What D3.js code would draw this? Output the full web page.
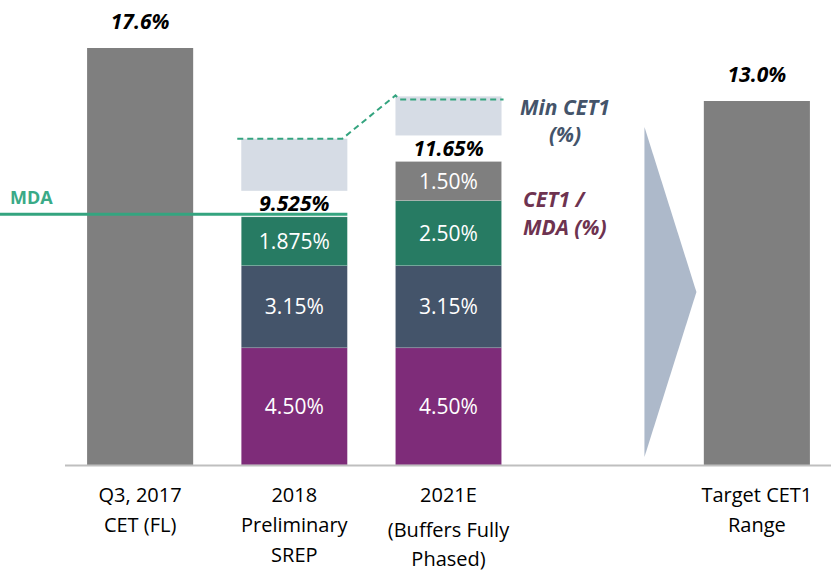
<!DOCTYPE html>
<html>
<head>
<meta charset="utf-8">
<script src="https://cdn.jsdelivr.net/npm/d3@7"></script>
<style>
  body { margin: 0; background: #fff; }
  text { font-family: "Open Sans", sans-serif; }
</style>
</head>
<body>
<div id="container"></div>
<script>
/**
 * DATA
 * */
const categories = ["Q3, 2017", "2018", "2021E", "arrow", "Target"];
const categoryLines = [
  ["Q3, 2017", "CET (FL)"],
  ["2018", "Preliminary", "SREP"],
  ["2021E", "(Buffers Fully", "Phased)"],
  [],
  ["Target CET1", "Range"]
];
// gray total bars
const totalCats = ["Q3, 2017", "Target"];
const totalValues = [17.6, 13.0];
const totalLabels = ["17.6%", "13.0%"];

// stacked requirement bars
const stackCats = ["2018", "2021E"];
const layerNames = ["Pillar 1", "Pillar 2R", "CCB", "O-SII"];
const layer2018 = [4.50, 3.15, 1.875, 0];
const layer2021 = [4.50, 3.15, 2.50, 1.50];
const layerLabels2018 = ["4.50%", "3.15%", "1.875%", ""];
const layerLabels2021 = ["4.50%", "3.15%", "2.50%", "1.50%"];
const stackTotalLabels = ["9.525%", "11.65%"];

// Min CET1 boxes (from / to)
const minFrom = [10.525, 12.65];
const minTo = [12.525, 14.15];

const mdaValue = 9.525;

/**
 * CONSTANTS
 * */
const width = 831,
  height = 572,
  baseline = 465;

const colors = {
  "Pillar 1": "#7e2c79",
  "Pillar 2R": "#44546a",
  "CCB": "#277b63",
  "O-SII": "#7f7f7f"
};

const svg = d3.select("#container")
  .append("svg")
  .attr("width", width)
  .attr("height", height);

const x = d3.scaleBand()
  .domain(categories)
  .range([10, 887])
  .paddingInner(0.312)
  .paddingOuter(0.5);

// stacks are drawn to scale
const y = d3.scaleLinear()
  .domain([0, 17.85])
  .range([baseline, 0]);

// total bars are not to scale in the original slide
const yTotal = d3.scaleLinear()
  .domain([13.0, 17.6])
  .range([101, 48]);

// arrow
const tx = x("Target");
const arrowTop = yTotal(13.0) + 26,
  arrowBot = baseline - 8;
svg.append("polygon")
  .attr("points", [
    [tx - 0.385 * x.step(), arrowTop],
    [tx - 0.048 * x.step(), (arrowTop + arrowBot) / 2],
    [tx - 0.385 * x.step(), arrowBot]
  ].map(p => p.join(",")).join(" "))
  .attr("fill", "#adb9ca");

// total bars
const totals = totalCats.map((c, i) => ({ cat: c, value: totalValues[i], label: totalLabels[i] }));
svg.selectAll("rect.total")
  .data(totals)
  .join("rect")
  .attr("class", "total")
  .attr("x", d => x(d.cat))
  .attr("width", x.bandwidth())
  .attr("y", d => yTotal(d.value))
  .attr("height", d => baseline - yTotal(d.value))
  .attr("fill", "#7f7f7f");

svg.selectAll("text.total-label")
  .data(totals)
  .join("text")
  .attr("class", "total-label")
  .attr("x", d => x(d.cat) + x.bandwidth() / 2)
  .attr("y", d => yTotal(d.value) - 19)
  .attr("text-anchor", "middle")
  .attr("font-size", 21)
  .attr("font-weight", "bold")
  .attr("font-style", "italic")
  .attr("fill", "#000")
  .text(d => d.label);

// stacked bars
const stackRows = stackCats.map((c, i) => {
  const vals = i === 0 ? layer2018 : layer2021;
  const row = { cat: c };
  layerNames.forEach((n, j) => row[n] = vals[j]);
  return row;
});
const series = d3.stack().keys(layerNames)(stackRows);

const layers = svg.selectAll("g.layer")
  .data(series)
  .join("g")
  .attr("class", "layer")
  .attr("fill", d => colors[d.key]);

layers.selectAll("rect")
  .data(d => d.filter(s => s[1] > s[0]))
  .join("rect")
  .attr("x", d => x(d.data.cat))
  .attr("width", x.bandwidth())
  .attr("y", d => y(d[1]))
  .attr("height", d => y(d[0]) - y(d[1]))
  .attr("stroke", "rgba(255,255,255,0.3)")
  .attr("stroke-width", 0.6);

series.forEach((s, j) => {
  s.forEach((d, i) => {
    const lab = (i === 0 ? layerLabels2018 : layerLabels2021)[j];
    if (!lab) return;
    svg.append("text")
      .attr("x", x(d.data.cat) + x.bandwidth() / 2)
      .attr("y", (y(d[0]) + y(d[1])) / 2)
      .attr("dy", "0.36em")
      .attr("text-anchor", "middle")
      .attr("font-size", 21)
      .attr("fill", "#fff")
      .text(lab);
  });
});

// stack totals
const stackTotals = stackCats.map((c, i) => ({
  cat: c,
  value: d3.sum(i === 0 ? layer2018 : layer2021),
  label: stackTotalLabels[i]
}));
svg.selectAll("text.stack-total")
  .data(stackTotals)
  .join("text")
  .attr("class", "stack-total")
  .attr("x", d => x(d.cat) + x.bandwidth() / 2)
  .attr("y", d => y(d.value) - 6)
  .attr("text-anchor", "middle")
  .attr("font-size", 21)
  .attr("font-weight", "bold")
  .attr("font-style", "italic")
  .attr("fill", "#000")
  .text(d => d.label);

// Min CET1 boxes
svg.selectAll("rect.min-box")
  .data(stackCats)
  .join("rect")
  .attr("class", "min-box")
  .attr("x", d => x(d))
  .attr("width", x.bandwidth())
  .attr("y", (d, i) => y(minTo[i]))
  .attr("height", (d, i) => y(minFrom[i]) - y(minTo[i]))
  .attr("fill", "#d6dce5");

// dashed Min CET1 line
const x18 = x("2018"), x21 = x("2021E");
svg.append("path")
  .attr("d", d3.line()([
    [x18 - 4, y(minTo[0])],
    [x18 + x.bandwidth() - 5, y(minTo[0])],
    [x21, y(minTo[1]) - 1],
    [x21 + 4, y(minTo[1]) + 3],
    [x21 + x.bandwidth() + 2, y(minTo[1]) + 3]
  ]))
  .attr("fill", "none")
  .attr("stroke", "#34a47f")
  .attr("stroke-width", 2)
  .attr("stroke-dasharray", "6,4");

// MDA line
svg.append("line")
  .attr("x1", 0)
  .attr("x2", x18 + x.bandwidth())
  .attr("y1", y(mdaValue) - 2.5)
  .attr("y2", y(mdaValue) - 2.5)
  .attr("stroke", "#34a47f")
  .attr("stroke-width", 3);

svg.append("text")
  .attr("x", 10)
  .attr("y", y(mdaValue) - 13)
  .attr("font-size", 18)
  .attr("font-weight", "bold")
  .attr("fill", "#3aaa87")
  .text("MDA");

// legend-ish annotations
svg.append("text")
  .attr("x", 565)
  .attr("y", 115)
  .attr("text-anchor", "middle")
  .attr("font-size", 21)
  .attr("font-weight", "bold")
  .attr("font-style", "italic")
  .attr("fill", "#44546a")
  .selectAll("tspan")
  .data(["Min CET1", "(%)"])
  .join("tspan")
  .attr("x", 565)
  .attr("dy", (d, i) => i ? 27 : 0)
  .text(d => d);

svg.append("text")
  .attr("x", 523)
  .attr("y", 207)
  .attr("font-size", 21)
  .attr("font-weight", "bold")
  .attr("font-style", "italic")
  .attr("fill", "#6e3350")
  .selectAll("tspan")
  .data(["CET1 /", "MDA (%)"])
  .join("tspan")
  .attr("x", 523)
  .attr("dy", (d, i) => i ? 28 : 0)
  .text(d => d);

// baseline
svg.append("line")
  .attr("x1", 65)
  .attr("x2", width)
  .attr("y1", baseline + 0.5)
  .attr("y2", baseline + 0.5)
  .attr("stroke", "#bfbfbf")
  .attr("stroke-width", 2);

// category labels
const lineGaps = [[0, 30], [0, 30, 30], [0, 35, 29], [], [0, 30]];
categoryLines.forEach((lines, i) => {
  if (!lines.length) return;
  const cx = x(categories[i]) + x.bandwidth() / 2;
  svg.append("text")
    .attr("text-anchor", "middle")
    .attr("font-size", 20)
    .attr("fill", "#000")
    .selectAll("tspan")
    .data(lines)
    .join("tspan")
    .attr("x", cx)
    .attr("y", (d, j) => 502 + d3.sum(lineGaps[i].slice(0, j + 1)))
    .text(d => d);
});
</script>
</body>
</html>
